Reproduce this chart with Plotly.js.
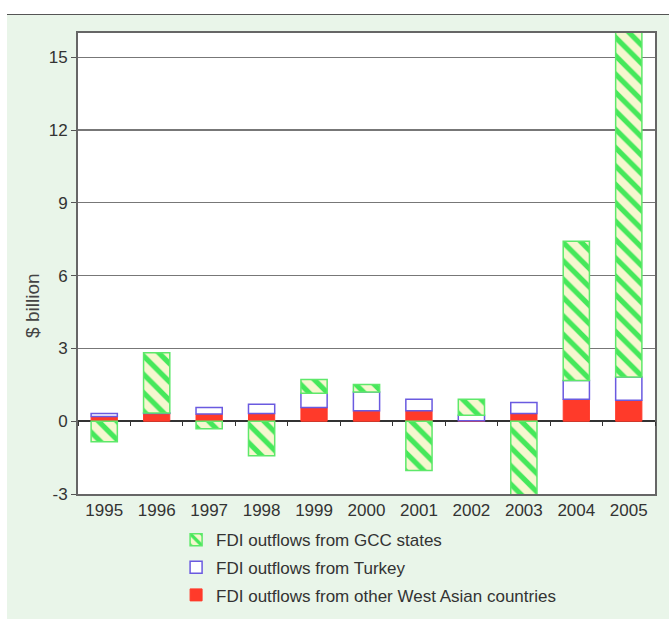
<!DOCTYPE html>
<html>
<head>
<meta charset="utf-8">
<script src="https://cdn.plot.ly/plotly-3.0.1.min.js"></script>
<style>
  html, body { margin: 0; padding: 0; background: #ffffff; }
  #bg { position: absolute; left: 7px; top: 14px; width: 662px; height: 605px;
        background: #e9f5e9; border-top: 1.5px solid #555; }
  #chart { position: absolute; left: 0; top: 0; width: 669px; height: 619px; }
</style>
</head>
<body>
<div id="bg"></div>
<div id="chart"></div>
<script>
const years = ['1995','1996','1997','1998','1999','2000','2001','2002','2003','2004','2005'];
const otherWestAsia = [0.19, 0.32, 0.30, 0.32, 0.57, 0.43, 0.43, 0.02, 0.32, 0.91, 0.86];
const turkey        = [0.13, 0.02, 0.27, 0.38, 0.58, 0.77, 0.48, 0.23, 0.45, 0.77, 0.96];
const gcc           = [-0.85, 2.48, -0.31, -1.42, 0.57, 0.31, -2.03, 0.66, -3.3, 5.74, 14.3];
const yTicks = [-3, 0, 3, 6, 9, 12, 15];
const seriesNames = ['FDI outflows from other West Asian countries', 'FDI outflows from Turkey', 'FDI outflows from GCC states'];

const traces = [
  { type: 'bar', x: years, y: otherWestAsia, name: seriesNames[0], legendgroup: 'a', legendrank: 3,
    width: 0.5, marker: { color: '#ff3a2a', line: { color: '#ff3a2a', width: 1 } } },
  { type: 'bar', x: years, y: turkey, name: seriesNames[1], legendgroup: 'b', legendrank: 2,
    width: 0.5, marker: { color: '#ffffff', line: { color: '#6a5ae0', width: 1.5 } } },
  { type: 'bar', x: years, y: gcc, name: seriesNames[2], legendgroup: 'c', legendrank: 1,
    width: 0.5, marker: { color: '#f6f7cf',
      pattern: { shape: '\\', fgcolor: '#45e85a', bgcolor: '#f6f7cf', size: 13, solidity: 0.4 },
      line: { color: '#5ee86a', width: 1.5 } } },
  { type: 'scatter', mode: 'none', x: years, y: years.map(() => 0), xaxis: 'x2', yaxis: 'y',
    showlegend: false, hoverinfo: 'skip' }
];

const layout = {
  width: 669, height: 619,
  margin: { l: 78, r: 14, t: 33, b: 125 },
  paper_bgcolor: 'rgba(0,0,0,0)',
  plot_bgcolor: '#ffffff',
  barmode: 'relative',
  font: { family: 'Liberation Sans, Arial, sans-serif', color: '#333', size: 17 },
  showlegend: true,
  legend: { x: 0.17, xanchor: 'left', xref: 'paper', y: 0.1565, yanchor: 'top', yref: 'container',
            traceorder: 'grouped', tracegroupgap: 2.5,
            bgcolor: 'rgba(0,0,0,0)', font: { size: 17, color: '#333' } },
  xaxis: { type: 'category', categoryorder: 'array', categoryarray: years,
           range: [-0.5, 10.5],
           showline: true, linecolor: '#666', linewidth: 2, mirror: true,
           ticks: '', showgrid: false, tickfont: { size: 17, color: '#333' } },
  xaxis2: { type: 'category', categoryorder: 'array', categoryarray: years,
            overlaying: 'x', anchor: 'free', position: 3 / 19, range: [-0.5, 10.5],
            showline: false, showgrid: false, showticklabels: false,
            ticks: 'outside', tickson: 'boundaries', ticklen: 4, tickcolor: '#333', tickwidth: 1 },
  yaxis: { range: [-3, 16], tickvals: yTicks, ticktext: yTicks.map(String),
           showline: true, linecolor: '#666', linewidth: 2, mirror: true,
           ticks: 'outside', ticklen: 5, tickcolor: '#555', tickwidth: 1,
           showgrid: true, gridcolor: '#777', gridwidth: 1.2,
           zeroline: true, zerolinecolor: '#333', zerolinewidth: 1.5,
           tickfont: { size: 17, color: '#333' } },
  annotations: [
    { text: '$ billion', xref: 'paper', yref: 'paper', x: -0.078, y: 0.408,
      xanchor: 'center', yanchor: 'middle', textangle: -90, showarrow: false,
      font: { size: 19, color: '#444' } }
  ]
};

Plotly.newPlot('chart', traces, layout, { displayModeBar: false, staticPlot: true });
</script>
</body>
</html>
